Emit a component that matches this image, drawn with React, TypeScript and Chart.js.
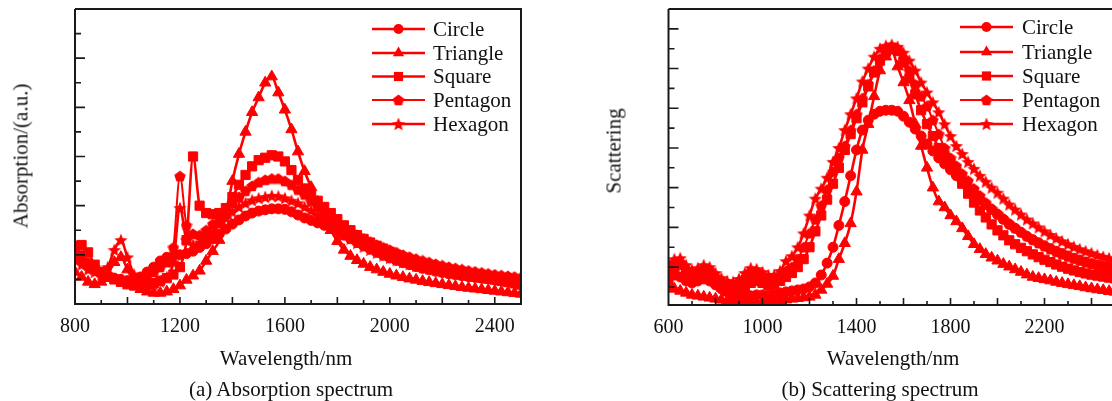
import React, { useEffect, useRef } from 'react';
import { Chart, registerables } from 'chart.js';

Chart.register(...registerables);

const RED = '#ff0000';
const INK = '#111111';
const SERIF = "'Liberation Serif', 'Times New Roman', Times, serif";

const seriesNames = ['Circle', 'Triangle', 'Square', 'Pentagon', 'Hexagon'];

// ---------- (a) Absorption spectrum ----------
const absWavelength = [
  800, 825, 850, 875, 900, 925, 950, 975, 1000, 1025,
  1050, 1075, 1100, 1125, 1150, 1175, 1200, 1225, 1250, 1275,
  1300, 1325, 1350, 1375, 1400, 1425, 1450, 1475, 1500, 1525,
  1550, 1575, 1600, 1625, 1650, 1675, 1700, 1725, 1750, 1775,
  1800, 1825, 1850, 1875, 1900, 1925, 1950, 1975, 2000, 2025,
  2050, 2075, 2100, 2125, 2150, 2175, 2200, 2225, 2250, 2275,
  2300, 2325, 2350, 2375, 2400, 2425, 2450, 2475, 2500,
];
const absCircle = [
  2.0, 1.8, 1.6, 1.4, 1.25, 1.15, 1.05, 1.0, 0.95, 1.0,
  1.1, 1.3, 1.5, 1.75, 1.9, 1.95, 2.0, 2.05, 2.15, 2.3,
  2.45, 2.65, 2.85, 3.05, 3.25, 3.42, 3.58, 3.7, 3.78, 3.83,
  3.87, 3.87, 3.85, 3.75, 3.62, 3.5, 3.4, 3.3, 3.2, 3.1,
  2.95, 2.8, 2.65, 2.5, 2.36, 2.23, 2.1, 1.98, 1.87, 1.77,
  1.68, 1.6, 1.52, 1.45, 1.39, 1.33, 1.28, 1.23, 1.19, 1.15,
  1.11, 1.08, 1.05, 1.02, 0.99, 0.96, 0.94, 0.92, 0.9,
];
const absTriangle = [
  1.3, 1.1, 0.9, 0.8, 0.9, 1.2, 1.7, 1.9, 1.4, 0.9,
  0.6, 0.5, 0.45, 0.45, 0.5, 0.6, 0.75, 0.98, 1.15, 1.35,
  1.75, 2.15, 2.6, 3.6, 5.0, 6.1, 7.0, 7.8, 8.4, 9.0,
  9.25, 8.6, 7.9, 7.1, 6.2, 5.4, 4.75, 4.15, 3.55, 3.0,
  2.55, 2.2, 1.95, 1.78, 1.63, 1.5, 1.4, 1.3, 1.22, 1.15,
  1.09, 1.03, 0.98, 0.93, 0.88, 0.84, 0.8, 0.76, 0.72, 0.68,
  0.65, 0.62, 0.59, 0.56, 0.53, 0.5, 0.47, 0.44, 0.41,
];
const absSquare = [
  2.2, 2.4, 2.1, 1.6, 1.3, 1.1, 1.0, 0.9, 0.8, 0.75,
  0.75, 0.8, 0.85, 0.95, 1.05, 1.2, 1.5, 2.6, 6.0, 4.0,
  3.7, 3.65, 3.7, 3.9, 4.35, 4.85, 5.25, 5.6, 5.85, 5.95,
  6.05, 6.0, 5.8, 5.45, 5.05, 4.7, 4.45, 4.2, 3.95, 3.7,
  3.45, 3.2, 3.0, 2.8, 2.65, 2.5, 2.37, 2.25, 2.12, 2.0,
  1.88, 1.77, 1.67, 1.58, 1.5, 1.43, 1.37, 1.31, 1.26, 1.21,
  1.16, 1.11, 1.07, 1.03, 0.99, 0.94, 0.89, 0.84, 0.79,
];
const absPentagon = [
  2.4, 2.0, 1.7, 1.5, 1.3, 1.15, 1.05, 1.0, 0.95, 1.0,
  1.05, 1.15, 1.3, 1.5, 1.7, 2.3, 5.2, 3.2, 2.85, 2.8,
  3.0, 3.25, 3.5, 3.8, 4.1, 4.35, 4.6, 4.8, 4.95, 5.05,
  5.1, 5.1, 5.0, 4.85, 4.65, 4.45, 4.2, 3.95, 3.72, 3.5,
  3.3, 3.12, 2.95, 2.8, 2.66, 2.53, 2.41, 2.3, 2.2, 2.1,
  2.0, 1.92, 1.84, 1.77, 1.7, 1.63, 1.57, 1.51, 1.46, 1.41,
  1.36, 1.32, 1.28, 1.24, 1.2, 1.17, 1.14, 1.11, 1.08,
];
const absHexagon = [
  1.8, 1.6, 1.4, 1.3, 1.2, 1.5, 2.2, 2.6, 1.9, 1.2,
  0.9, 0.8, 0.8, 0.9, 1.1, 1.7, 3.9, 2.6, 2.4, 2.5,
  2.7, 2.95, 3.25, 3.5, 3.75, 3.95, 4.1, 4.22, 4.3, 4.35,
  4.4, 4.38, 4.3, 4.2, 4.1, 3.95, 3.8, 3.62, 3.42, 3.22,
  3.02, 2.83, 2.65, 2.48, 2.33, 2.2, 2.08, 1.97, 1.87, 1.78,
  1.7, 1.62, 1.55, 1.49, 1.43, 1.38, 1.33, 1.29, 1.25, 1.21,
  1.18, 1.15, 1.12, 1.09, 1.06, 1.04, 1.02, 1.0, 0.98,
];
const absTickLabels = [800, 1200, 1600, 2000, 2400];

// ---------- (b) Scattering spectrum ----------
const scaWavelength = [
  600, 625, 650, 675, 700, 725, 750, 775, 800, 825,
  850, 875, 900, 925, 950, 975, 1000, 1025, 1050, 1075,
  1100, 1125, 1150, 1175, 1200, 1225, 1250, 1275, 1300, 1325,
  1350, 1375, 1400, 1425, 1450, 1475, 1500, 1525, 1550, 1575,
  1600, 1625, 1650, 1675, 1700, 1725, 1750, 1775, 1800, 1825,
  1850, 1875, 1900, 1925, 1950, 1975, 2000, 2025, 2050, 2075,
  2100, 2125, 2150, 2175, 2200, 2225, 2250, 2275, 2300, 2325,
  2350, 2375, 2400, 2425, 2450, 2475, 2500,
];
const scaCircle = [
  1.5, 1.6, 1.5, 1.3, 1.2, 1.3, 1.4, 1.3, 1.1, 0.9,
  0.75, 0.6, 0.5, 0.5, 0.55, 0.6, 0.6, 0.6, 0.65, 0.7,
  0.75, 0.8, 0.85, 0.9, 1.0, 1.2, 1.6, 2.2, 3.0, 4.1,
  5.3, 6.6, 7.9, 8.9, 9.4, 9.7, 9.85, 9.9, 9.9, 9.85,
  9.6, 9.3, 8.95, 8.6, 8.2, 7.85, 7.5, 7.2, 6.9, 6.6,
  6.3, 6.0, 5.7, 5.4, 5.15, 4.9, 4.65, 4.4, 4.15, 3.95,
  3.75, 3.55, 3.38, 3.22, 3.07, 2.93, 2.8, 2.68, 2.56, 2.45,
  2.35, 2.25, 2.16, 2.08, 2.0, 1.93, 1.87,
];
const scaTriangle = [
  1.0, 0.9, 0.8, 0.7, 0.6, 0.55, 0.5, 0.45, 0.4, 0.35,
  0.3, 0.25, 0.2, 0.2, 0.2, 0.22, 0.25, 0.27, 0.3, 0.33,
  0.36, 0.4, 0.43, 0.47, 0.5, 0.6, 0.85, 1.15, 1.55, 2.4,
  3.2, 4.2, 5.8, 7.9, 9.2, 10.6, 11.9, 12.6, 12.9, 12.1,
  11.3, 10.4, 9.2, 8.1, 7.0, 6.0, 5.3, 5.0, 4.6, 4.3,
  3.95, 3.55, 3.15, 2.9, 2.65, 2.47, 2.32, 2.15, 2.02, 1.88,
  1.75, 1.62, 1.5, 1.44, 1.38, 1.32, 1.25, 1.19, 1.13, 1.08,
  1.03, 0.97, 0.92, 0.87, 0.83, 0.78, 0.75,
];
const scaSquare = [
  1.3, 1.9, 2.1, 1.7, 1.4, 1.5, 1.7, 1.6, 1.3, 1.0,
  0.8, 0.7, 0.75, 0.95, 1.2, 1.3, 1.2, 1.1, 1.15, 1.3,
  1.5, 1.7, 2.0, 2.4, 3.0, 3.8, 4.6, 5.4, 6.2, 7.0,
  7.9, 8.7, 9.5, 10.3, 11.1, 11.8, 12.4, 12.85, 13.05, 12.9,
  12.3, 11.5, 10.7, 9.9, 9.2, 8.6, 8.0, 7.6, 7.25, 6.8,
  6.2, 5.7, 5.25, 4.85, 4.5, 4.15, 3.85, 3.6, 3.35, 3.15,
  2.97, 2.8, 2.64, 2.5, 2.37, 2.25, 2.13, 2.02, 1.92, 1.83,
  1.75, 1.68, 1.62, 1.57, 1.52, 1.47, 1.43,
];
const scaPentagon = [
  1.8, 2.1, 2.2, 1.9, 1.6, 1.7, 1.9, 1.85, 1.5, 1.2,
  1.0, 0.95, 1.1, 1.4, 1.7, 1.75, 1.55, 1.4, 1.45, 1.6,
  1.8, 2.0, 2.4, 3.0, 3.7, 4.4, 5.1, 5.9, 6.8, 7.5,
  8.1, 8.9, 9.7, 10.5, 11.2, 11.9, 12.5, 12.95, 13.1, 12.9,
  12.5, 11.9, 11.2, 10.6, 10.1, 9.4, 8.7, 8.0, 7.5, 7.1,
  6.7, 6.35, 5.95, 5.6, 5.25, 4.95, 4.7, 4.45, 4.2, 3.98,
  3.77, 3.57, 3.38, 3.21, 3.05, 2.9, 2.77, 2.64, 2.53, 2.43,
  2.34, 2.26, 2.19, 2.13, 2.08, 2.04, 2.0,
];
const scaHexagon = [
  2.2, 2.4, 2.45, 2.1, 1.85, 1.95, 2.1, 2.0, 1.7, 1.45,
  1.3, 1.25, 1.4, 1.7, 1.95, 1.9, 1.75, 1.6, 1.6, 1.8,
  2.3, 2.55, 3.0, 3.7, 4.6, 5.45, 5.95, 6.5, 7.3, 8.0,
  8.9, 9.7, 10.5, 11.35, 12.0, 12.6, 13.0, 13.15, 13.2, 13.1,
  12.8, 12.4, 11.9, 11.3, 10.8, 10.3, 9.8, 9.2, 8.6, 8.1,
  7.7, 7.3, 6.95, 6.6, 6.3, 6.0, 5.75, 5.45, 5.15, 4.9,
  4.65, 4.4, 4.2, 4.0, 3.8, 3.62, 3.45, 3.3, 3.15, 3.02,
  2.9, 2.8, 2.7, 2.6, 2.52, 2.45, 2.4,
];
const scaTickLabels = [600, 1000, 1400, 1800, 2200];

// ---------- drawing helpers ----------
function makeShape(kind: 'pentagon' | 'star', size: number): HTMLCanvasElement {
  const c = document.createElement('canvas');
  c.width = size;
  c.height = size;
  const ctx = c.getContext('2d')!;
  ctx.fillStyle = RED;
  ctx.beginPath();
  const cx = size / 2;
  const cy = size / 2;
  const R = size / 2;
  if (kind === 'pentagon') {
    for (let i = 0; i < 5; i++) {
      const a = -Math.PI / 2 + (i * 2 * Math.PI) / 5;
      const x = cx + R * Math.cos(a);
      const y = cy + R * Math.sin(a) + 0.5;
      if (i === 0) ctx.moveTo(x, y);
      else ctx.lineTo(x, y);
    }
  } else {
    for (let i = 0; i < 10; i++) {
      const a = -Math.PI / 2 + (i * Math.PI) / 5;
      const r = i % 2 === 0 ? R : R * 0.45;
      const x = cx + r * Math.cos(a);
      const y = cy + r * Math.sin(a) + 0.6;
      if (i === 0) ctx.moveTo(x, y);
      else ctx.lineTo(x, y);
    }
  }
  ctx.closePath();
  ctx.fill();
  return c;
}

function drawMarker(ctx: CanvasRenderingContext2D, style: any, x: number, y: number, r: number) {
  if (typeof style !== 'string') {
    ctx.drawImage(style, x - style.width / 2, y - style.height / 2);
    return;
  }
  ctx.beginPath();
  if (style === 'circle') {
    ctx.arc(x, y, r, 0, Math.PI * 2);
  } else if (style === 'triangle') {
    for (let k = 0; k < 3; k++) {
      const a = (k * 2 * Math.PI) / 3;
      const px = x + Math.sin(a) * r;
      const py = y - Math.cos(a) * r;
      if (k === 0) ctx.moveTo(px, py);
      else ctx.lineTo(px, py);
    }
    ctx.closePath();
  } else {
    const s = r * Math.SQRT1_2;
    ctx.rect(x - s, y - s, 2 * s, 2 * s);
  }
  ctx.fill();
}

const framePlugin = {
  id: 'frame',
  afterDraw(chart: any, _args: any, opts: any) {
    const { ctx, chartArea: a, scales } = chart;
    ctx.save();
    ctx.strokeStyle = '#1a1a1a';
    ctx.lineWidth = 2;
    ctx.beginPath();
    ctx.moveTo(a.left, a.top);
    ctx.lineTo(a.left, a.bottom);
    ctx.lineTo(a.right, a.bottom);
    if (opts.closeRight) {
      ctx.lineTo(a.right, a.top);
      ctx.lineTo(a.left, a.top);
    } else {
      ctx.moveTo(a.left, a.top);
      ctx.lineTo(chart.width, a.top);
    }
    ctx.stroke();

    ctx.lineWidth = 1.6;
    ctx.beginPath();
    const xs = scales.x;
    for (let v = xs.min; v <= xs.max; v += 100) {
      if (v === xs.min || v === xs.max) continue;
      const px = xs.getPixelForValue(v);
      const len = v % 200 === 0 ? 7 : 4;
      ctx.moveTo(px, a.bottom);
      ctx.lineTo(px, a.bottom - len);
    }
    const ys = scales.y;
    for (let v = Math.ceil(ys.min); v < ys.max; v++) {
      if (v <= ys.min) continue;
      const py = ys.getPixelForValue(v);
      const len = v % 2 === 0 ? 10 : 6;
      ctx.moveTo(a.left, py);
      ctx.lineTo(a.left + len, py);
    }
    ctx.stroke();

    const lg = opts.legend;
    ctx.font = `21px ${SERIF}`;
    ctx.textBaseline = 'middle';
    ctx.textAlign = 'left';
    chart.data.datasets.forEach((ds: any, i: number) => {
      const y = lg.rows[i];
      ctx.strokeStyle = RED;
      ctx.lineWidth = i === 3 ? 1.8 : 2.6;
      ctx.beginPath();
      ctx.moveTo(lg.x0, y);
      ctx.lineTo(lg.x1, y);
      ctx.stroke();
      ctx.fillStyle = RED;
      drawMarker(ctx, ds.pointStyle, (lg.x0 + lg.x1) / 2, y, ds.pointRadius);
      ctx.fillStyle = INK;
      ctx.fillText(ds.label, lg.tx, y + 1);
    });
    ctx.restore();
  },
};

type PanelProps = {
  wavelengths: number[];
  series: number[][];
  tickLabels: number[];
  xMin: number;
  xMax: number;
  yMin: number;
  yMax: number;
  left: number;
  width: number;
  padding: { left: number; right: number; top: number; bottom: number };
  xAxisHeight: number;
  closeRight: boolean;
  legend: { x0: number; x1: number; tx: number; rows: number[] };
};

function Panel(p: PanelProps) {
  const ref = useRef<HTMLCanvasElement>(null);
  useEffect(() => {
    const canvas = ref.current!;
    const pent = makeShape('pentagon', 12);
    const star = makeShape('star', 14);
    const styles: any[] = ['circle', 'triangle', 'rect', pent, star];
    const radii = [5, 6.5, 6.5, 6, 7];
    const chart = new Chart(canvas, {
      type: 'line',
      data: {
        datasets: p.series.map((vals, i) => ({
          label: seriesNames[i],
          data: p.wavelengths.map((x, j) => ({ x, y: vals[j] })),
          borderColor: RED,
          backgroundColor: RED,
          borderWidth: i === 3 ? 2 : 2.6,
          pointStyle: styles[i],
          pointRadius: radii[i],
          pointBorderWidth: 1,
          pointBorderColor: RED,
          pointBackgroundColor: RED,
          cubicInterpolationMode: 'monotone',
          fill: false,
        })),
      } as any,
      options: {
        responsive: false,
        animation: false,
        devicePixelRatio: 1,
        events: [],
        layout: { padding: p.padding },
        plugins: {
          legend: { display: false },
          tooltip: { enabled: false },
          frame: { closeRight: p.closeRight, legend: p.legend },
        } as any,
        scales: {
          x: {
            type: 'linear',
            min: p.xMin,
            max: p.xMax,
            grid: { display: false, drawTicks: false },
            border: { display: false },
            afterBuildTicks: (axis: any) => {
              const t: any[] = [];
              for (let v = p.xMin; v <= p.xMax; v += 100) t.push({ value: v });
              axis.ticks = t;
            },
            afterFit: (axis: any) => {
              axis.height = p.xAxisHeight;
            },
            ticks: {
              autoSkip: false,
              maxRotation: 0,
              padding: 11,
              color: INK,
              font: { family: SERIF, size: 20 },
              callback: (v: any) => (p.tickLabels.includes(Number(v)) ? String(v) : ''),
            },
          },
          y: {
            type: 'linear',
            min: p.yMin,
            max: p.yMax,
            grid: { display: false, drawTicks: false },
            border: { display: false },
            ticks: { display: false },
            afterFit: (axis: any) => {
              axis.width = 0;
            },
          },
        },
      } as any,
      plugins: [framePlugin as any],
    });
    return () => chart.destroy();
  }, []);
  return (
    <canvas
      ref={ref}
      width={p.width}
      height={401}
      style={{ position: 'absolute', left: p.left, top: 0, width: p.width, height: 401 }}
    />
  );
}

function Label({ x, y, text, rotate }: { x: number; y: number; text: string; rotate?: boolean }) {
  return (
    <div
      style={{
        position: 'absolute',
        left: x,
        top: y,
        transform: `translate(-50%, -50%)${rotate ? ' rotate(-90deg)' : ''}`,
        fontFamily: SERIF,
        fontSize: 21,
        lineHeight: 1,
        whiteSpace: 'nowrap',
        color: INK,
      }}
    >
      {text}
    </div>
  );
}

export default function App() {
  return (
    <div
      style={{
        position: 'absolute',
        left: 0,
        top: 0,
        width: 1112,
        height: 401,
        overflow: 'hidden',
        background: '#ffffff',
      }}
    >
      <Panel
        wavelengths={absWavelength}
        series={[absCircle, absTriangle, absSquare, absPentagon, absHexagon]}
        tickLabels={absTickLabels}
        xMin={800}
        xMax={2500}
        yMin={0}
        yMax={12}
        left={0}
        width={556}
        padding={{ left: 75, right: 35, top: 9, bottom: 0 }}
        xAxisHeight={97}
        closeRight={true}
        legend={{ x0: 372, x1: 425, tx: 433, rows: [29, 53, 76.5, 100, 124] }}
      />
      <Panel
        wavelengths={scaWavelength}
        series={[scaCircle, scaTriangle, scaSquare, scaPentagon, scaHexagon]}
        tickLabels={scaTickLabels}
        xMin={600}
        xMax={2500}
        yMin={0.09}
        yMax={15}
        left={556}
        width={600}
        padding={{ left: 112.5, right: 41, top: 9, bottom: 0 }}
        xAxisHeight={96}
        closeRight={false}
        legend={{ x0: 404, x1: 457, tx: 466, rows: [27, 52, 76, 100, 124] }}
      />
      <Label x={21} y={156} text="Absorption/(a.u.)" rotate />
      <Label x={614} y={151} text="Scattering" rotate />
      <Label x={286} y={358} text="Wavelength/nm" />
      <Label x={893} y={358} text="Wavelength/nm" />
      <Label x={291} y={389} text="(a) Absorption spectrum" />
      <Label x={880} y={389} text="(b) Scattering spectrum" />
    </div>
  );
}
